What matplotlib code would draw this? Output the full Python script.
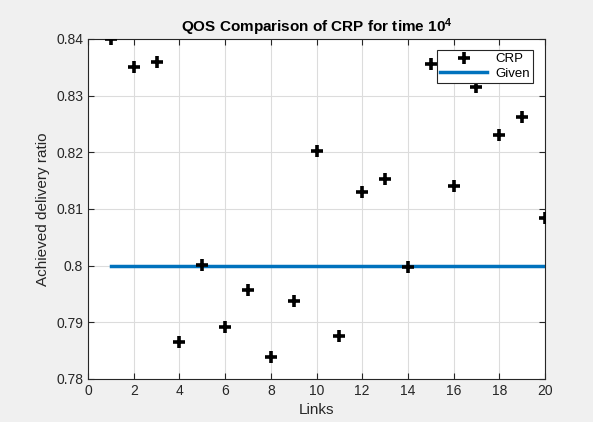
import matplotlib
matplotlib.use("Agg")
import matplotlib.pyplot as plt
from matplotlib.ticker import FuncFormatter

# values
links = [1, 2, 3, 4, 5, 6, 7, 8, 9, 10, 11, 12, 13, 14, 15, 16, 17, 18, 19, 20]
crp = [0.8400, 0.8351, 0.8359, 0.7865, 0.8002, 0.7892, 0.7957, 0.7839, 0.7938, 0.8202,
       0.7875, 0.8130, 0.8153, 0.7998, 0.8355, 0.8141, 0.8315, 0.8231, 0.8262, 0.8084]
given_x = [1, 20]
given_y = [0.80, 0.80]

plt.rcParams['font.family'] = ['Liberation Sans', 'DejaVu Sans']
plt.rcParams['mathtext.fontset'] = 'custom'
plt.rcParams['mathtext.bf'] = 'Liberation Sans:bold'
plt.rcParams['mathtext.rm'] = 'Liberation Sans'

fig = plt.figure(figsize=(5.93, 4.22), dpi=100, facecolor='#f0f0f0')
ax = fig.add_axes([0.1484, 0.1019, 0.7707, 0.8057])
ax.set_facecolor('white')

ax.plot(links, crp, linestyle='none', marker='+', markersize=8, markeredgewidth=2.6,
        color='black', label='CRP', zorder=3)
ax.plot(given_x, given_y, color='#0072BD', linewidth=2.5, label='Given', zorder=2)

ax.set_xlim(0, 20)
ax.set_ylim(0.78, 0.84)
ax.set_xticks(range(0, 21, 2))
ax.set_yticks([0.78, 0.79, 0.80, 0.81, 0.82, 0.83, 0.84])
ax.yaxis.set_major_formatter(FuncFormatter(lambda v, p: '%g' % round(v, 3)))

ax.grid(True, color='#dcdcdc', linewidth=0.8)
ax.set_axisbelow(True)
ax.tick_params(direction='in', length=4, colors='#262626', labelsize=10,
               top=True, right=True, labeltop=False, labelright=False)
for s in ax.spines.values():
    s.set_color('#262626')
    s.set_linewidth(0.8)

ax.set_xlabel('Links', fontsize=11, color='#262626')
ax.set_ylabel('Achieved delivery ratio', fontsize=11, color='#262626')
ax.set_title(r'QOS Comparison of CRP for time $\mathbf{10^4}$', fontsize=11,
             fontweight='bold', pad=5)

leg = ax.legend(loc='upper right', fontsize=9.5, fancybox=False, framealpha=1,
                edgecolor='#262626', handlelength=3.6, borderpad=0.25,
                labelspacing=0.15, handletextpad=0.6, borderaxespad=0,
                bbox_to_anchor=(0.974, 0.968))
leg.get_frame().set_linewidth(0.8)

fig.savefig('out.png', dpi=100, facecolor=fig.get_facecolor())
